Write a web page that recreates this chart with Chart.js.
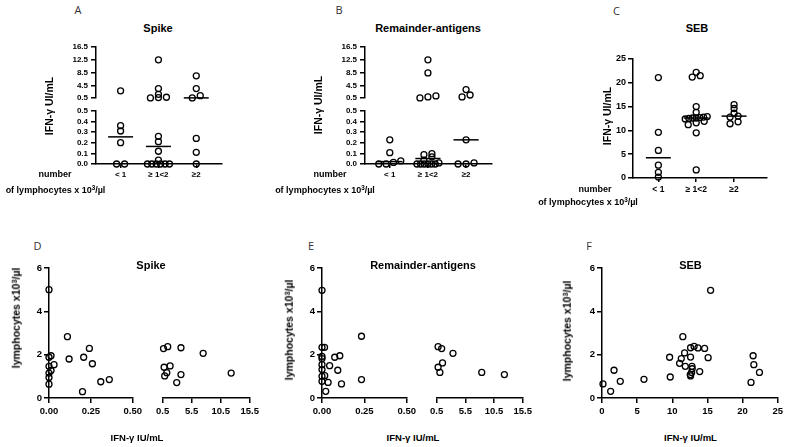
<!DOCTYPE html>
<html><head><meta charset="utf-8">
<script src="https://cdn.jsdelivr.net/npm/chart.js@4"></script>
<style>
body{margin:0;width:787px;height:447px;position:relative;overflow:hidden;background:#fff;font-family:'Liberation Sans',Arial,sans-serif;color:#000}
.t{position:absolute;transform:translate(-50%,-50%);white-space:nowrap;font-weight:bold;line-height:1}
.r{transform:translate(-50%,-50%) rotate(-90deg)}
.L{font-family:'Open Sans','Liberation Sans',sans-serif;font-weight:normal;color:#333;font-size:11px}
sup{font-size:0.7em;vertical-align:0.45em;line-height:0}
</style></head><body>
<script>
// ---------- data ----------
const catLabels = ['< 1', '\u2265 1<2', '\u22652'];
// Panel A: Spike IFN-γ by lymphocyte group
const spikeLt1 = [2.8, 0.36, 0.31, 0.2, 0, 0];
const spike1to2 = [12.5, 3.5, 1.7, 0.8, 0.7, 0.6, 0.26, 0.21, 0.12, 0.036, 0, 0, 0, 0, 0, 0];
const spikeGe2 = [7.5, 3.5, 1.3, 0.6, 0.24, 0.11, 0];
// Panel B: Remainder-antigens
const remLt1 = [0.227, 0.106, 0.03, 0.015, 0, 0];
const rem1to2 = [12.5, 8.4, 1.2, 0.9, 0.6, 0.097, 0.088, 0.067, 0.036, 0.01, 0, 0, 0, 0, 0, 0];
const remGe2 = [3.2, 1.5, 0.9, 0.227, 0.01, 0, 0];
// Panel C: SEB
const sebLt1 = [21.1, 9.6, 5.8, 2.7, 1.2, 0.2];
const seb1to2 = [22.2, 21.5, 21.2, 15.0, 13.8, 12.9, 12.8, 12.7, 12.6, 12.6, 12.5, 12.4, 11.9, 11.6, 11.2, 9.5, 1.7];
const sebGe2 = [15.4, 14.6, 13.6, 13.0, 12.8, 11.8, 11.4];
// Panel D: Spike IFN-γ vs lymphocytes
const dSpikeIFN = [0, 0, 0.012, 0, 0.012, 0.03, 0, 0, 0, 0.11, 0.12, 0.207, 0.241, 0.259, 0.2, 0.309, 0.36, 0.66, 1.38, 3.66, 7.48, 12.3, 0.76, 1.22, 0.86, 1.79, 2.93, 3.66];
const dSpikeLym = [5.0, 1.88, 1.95, 1.46, 1.27, 1.54, 1.15, 0.95, 0.64, 2.83, 1.8, 1.88, 2.29, 1.58, 0.29, 0.75, 0.85, 2.28, 2.37, 2.32, 2.06, 1.15, 1.42, 1.17, 1.02, 1.48, 0.71, 1.08];
// Panel E: Remainder-antigens IFN-γ vs lymphocytes
const eRemIFN = [0, 0, 0.015, 0, 0, 0, 0, 0, 0, 0.016, 0.036, 0.022, 0.045, 0.075, 0.105, 0.093, 0.115, 0.233, 0.233, 0.76, 1.38, 3.35, 0.76, 1.53, 1.07, 8.36, 12.3];
const eRemLym = [4.97, 2.34, 2.34, 1.92, 1.82, 1.54, 1.31, 1.0, 0.77, 1.03, 0.72, 0.31, 1.49, 1.88, 1.95, 1.28, 0.65, 2.85, 0.85, 2.37, 2.28, 2.06, 1.42, 1.62, 1.18, 1.18, 1.08];
// Panel F: SEB IFN-γ vs lymphocytes
const fSebIFN = [0.14, 1.23, 1.71, 2.6, 5.97, 9.62, 9.71, 11.04, 11.28, 11.5, 11.75, 11.85, 12.6, 12.6, 13.1, 13.65, 14.6, 15.1, 15.45, 13.9, 12.8, 12.83, 12.75, 12.56, 12.6, 21.5, 21.6, 22.4, 21.2];
const fSebLym = [0.65, 0.31, 1.28, 0.77, 0.86, 1.88, 0.97, 1.6, 1.82, 2.83, 2.08, 1.46, 2.32, 1.89, 2.38, 2.31, 2.29, 1.86, 4.97, 1.22, 1.46, 1.35, 1.18, 1.08, 1.02, 1.95, 1.54, 1.18, 0.72];
// tick labels
const ticksBrokenUpper = [0.5, 4.5, 8.5, 12.5, 16.5];
const ticksBrokenLower = [0, 0.1, 0.2, 0.3, 0.4, 0.5];
const ticksSebY = [0, 5, 10, 15, 20, 25];
const ticksLymY = [0, 2, 4, 6];
const ticksIfnLeft = [0, 0.25, 0.5];
const ticksIfnRight = [0.5, 5.5, 10.5, 15.5];
const ticksSebX = [0, 5, 10, 15, 20, 25];
const catTicks = [1, 2, 3];

// ---------- helpers ----------
const FONT = 'Liberation Sans';
function txt(s, x, y, size, cls) {
  const d = document.createElement('div');
  d.className = 't ' + (cls || '');
  d.style.left = x + 'px'; d.style.top = y + 'px';
  if (size) d.style.fontSize = size + 'px';
  d.innerHTML = s;
  document.body.appendChild(d);
}
function median(a) {
  const s = [...a].sort((p, q) => p - q), n = s.length;
  return n % 2 ? s[(n - 1) / 2] : (s[n / 2 - 1] + s[n / 2]) / 2;
}
function swarm(vals, toPx, pxPerX) {
  const idx = vals.map((v, i) => i).sort((a, b) => vals[a] - vals[b]);
  const off = new Array(vals.length).fill(0);
  let i = 0;
  while (i < idx.length) {
    const y0 = toPx(vals[idx[i]]);
    let j = i + 1;
    while (j < idx.length && Math.abs(toPx(vals[idx[j]]) - y0) < 3.5) j++;
    const n = j - i;
    const sp = n > 1 ? Math.min(8, 22 / (n - 1)) : 0;
    for (let k = 0; k < n; k++) off[idx[i + k]] = ((k - (n - 1) / 2) * sp) / pxPerX;
    i = j;
  }
  return off;
}
function axis(def, dir, size) {
  return {
    type: 'linear', display: def.show !== false, min: def.min, max: def.max,
    afterBuildTicks: s => { s.ticks = def.ticks.map(v => ({ value: v })); },
    afterFit: s => { if (dir === 'y') s.width = size; else s.height = size; },
    ticks: { callback: def.fmt, font: { family: FONT, weight: 'bold', size: def.fs || 8 }, color: '#000',
             padding: def.pad == null ? 3 : def.pad, autoSkip: false, maxRotation: 0, minRotation: 0 },
    grid: { display: true, drawOnChartArea: false, drawTicks: true, tickLength: def.tl || 5, color: '#000', lineWidth: 1.5 },
    border: { display: true, color: '#000', width: 1.5 }
  };
}
function seg(o) {
  const padT = o.padT == null ? 8 : o.padT, padR = o.padR == null ? 8 : o.padR, padB = o.padB || 0;
  const yW = o.yW, xH = o.xH;
  const c = document.createElement('canvas');
  const W = yW + o.w + padR, H = padT + o.h + xH + padB;
  c.width = W; c.height = H;
  c.style.cssText = `position:absolute;left:${o.l - yW}px;top:${o.t - padT}px;width:${W}px;height:${H}px`;
  document.body.appendChild(c);
  new Chart(c, {
    type: 'scatter', data: { datasets: o.datasets },
    options: {
      responsive: false, animation: false, devicePixelRatio: 1,
      layout: { autoPadding: false, padding: { top: padT, right: padR, left: 0, bottom: padB } },
      plugins: { legend: { display: false }, tooltip: { enabled: false } },
      events: [],
      scales: { x: axis(o.x, 'x', xH), y: axis(o.y, 'y', yW) }
    }
  });
}
const ptStyle = { pointRadius: 3, pointHoverRadius: 3, borderColor: '#000', backgroundColor: 'rgba(0,0,0,0)', borderWidth: 1.3, pointBorderWidth: 1.3, clip: false, showLine: false };
function pts(arr) { return Object.assign({ data: arr }, ptStyle); }
function medLine(c, m) {
  return { data: [{ x: c - 0.33, y: m }, { x: c + 0.33, y: m }], showLine: true, pointRadius: 0, borderColor: '#000', borderWidth: 1.5, clip: false };
}
const fmt1 = v => Number(v).toFixed(1);
const fmt2 = v => Number(v).toFixed(2);
const fmt0 = v => String(v);
const fmtCat = v => catLabels[Math.round(v) - 1];

// ---------- broken-y category panels (A, B) ----------
function brokenPanel(groups, L, W) {
  const upT = 47, upH = 53, loT = 109, loH = 55, xmin = 0.35, xmax = 3.68;
  const lp = loH / 0.5, up = upH / 16, pxPerX = W / (xmax - xmin);
  const toPx = v => v <= 0.5 ? v * lp : loH + 8 + (v - 0.5) * up;
  const lower = [], upper = [], loMed = [], upMed = [];
  groups.forEach((g, i) => {
    const c = i + 1, off = swarm(g, toPx, pxPerX);
    g.forEach((v, k) => (v <= 0.5 ? lower : upper).push({ x: c + off[k], y: v }));
    const m = median(g);
    (m <= 0.5 ? loMed : upMed).push(medLine(c, m));
  });
  seg({ l: L, t: upT, w: W, h: upH, yW: 32, xH: 0, padB: 6,
        x: { show: false, min: xmin, max: xmax, ticks: catTicks, fmt: fmtCat },
        y: { min: 0.5, max: 16.5, ticks: ticksBrokenUpper, fmt: fmt1, fs: 8, pad: 3 },
        datasets: [pts(upper), ...upMed] });
  seg({ l: L, t: loT, w: W, h: loH, yW: 32, xH: 18, padT: 6,
        x: { min: xmin, max: xmax, ticks: catTicks, fmt: fmtCat, fs: 8, tl: 4, pad: 2 },
        y: { min: 0, max: 0.5, ticks: ticksBrokenLower, fmt: fmt1, fs: 8, pad: 3 },
        datasets: [pts(lower), ...loMed] });
}
brokenPanel([spikeLt1, spike1to2, spikeGe2], 96, 126);
brokenPanel([remLt1, rem1to2, remGe2], 365, 127);

// ---------- C ----------
(function () {
  const L = 633, T = 59, W = 134, H = 119, xmin = 0.33, xmax = 3.87;
  const pxPerX = W / (xmax - xmin), toPx = v => v * H / 25;
  const all = [], meds = [];
  [sebLt1, seb1to2, sebGe2].forEach((g, i) => {
    const off = swarm(g, toPx, pxPerX);
    g.forEach((v, k) => all.push({ x: i + 1 + off[k], y: v }));
    meds.push(medLine(i + 1, median(g)));
  });
  seg({ l: L, t: T, w: W, h: H, yW: 30, xH: 20, padR: 12,
        x: { min: xmin, max: xmax, ticks: catTicks, fmt: fmtCat, fs: 8.5, tl: 4, pad: 2.5 },
        y: { min: 0, max: 25, ticks: ticksSebY, fmt: fmt0, fs: 9, pad: 2 },
        datasets: [pts(all), ...meds] });
})();

// ---------- broken-x scatter panels (D, E) ----------
function brokenX(ifn, lym, L, WL, R, WR) {
  const T = 268, H = 130;
  const left = [], right = [];
  ifn.forEach((v, i) => (v <= 0.5 ? left : right).push({ x: v, y: lym[i] }));
  seg({ l: L, t: T, w: WL, h: H, yW: 30, xH: 24, padR: 12,
        x: { min: 0, max: 0.5, ticks: ticksIfnLeft, fmt: fmt2, fs: 9.5, tl: 5, pad: 3 },
        y: { min: 0, max: 6, ticks: ticksLymY, fmt: fmt0, fs: 9.5, pad: 2 },
        datasets: [pts(left)] });
  seg({ l: R, t: T, w: WR, h: H, yW: 0, xH: 24, padR: 12,
        x: { min: 0.5, max: 15.5, ticks: ticksIfnRight, fmt: fmt1, fs: 9.5, tl: 5, pad: 3 },
        y: { show: false, min: 0, max: 6, ticks: ticksLymY, fmt: fmt0 },
        datasets: [pts(right)] });
}
brokenX(dSpikeIFN, dSpikeLym, 49, 84, 153, 97);
brokenX(eRemIFN, eRemLym, 322, 85, 427, 96);

// ---------- F ----------
seg({ l: 602, t: 268, w: 176, h: 130, yW: 30, xH: 24, padR: 8,
      x: { min: 0, max: 25, ticks: ticksSebX, fmt: fmt0, fs: 9.5, tl: 5, pad: 3 },
      y: { min: 0, max: 6, ticks: ticksLymY, fmt: fmt0, fs: 9.5, pad: 2 },
      datasets: [pts(fSebIFN.map((v, i) => ({ x: v, y: fSebLym[i] })))] });

// ---------- texts ----------
const lymTxt = 'of lymphocytes x 10<sup>3</sup>/\u00b5l';
txt('A', 78, 9, 0, 'L'); txt('Spike', 158, 28, 11);
txt('IFN-\u03b3 UI/mL', 48.5, 106, 10.5, 'r');
txt('number', 55, 174, 9); txt(lymTxt, 55.5, 190, 9);

txt('B', 339, 9, 0, 'L'); txt('Remainder-antigens', 428, 28, 11);
txt('IFN-\u03b3 UI/mL', 318, 105, 10.5, 'r');
txt('number', 330, 174, 9); txt(lymTxt, 325, 190, 9);

txt('C', 616.5, 10, 0, 'L'); txt('SEB', 697, 28, 11);
txt('IFN-\u03b3 UI/mL', 607, 116, 10.5, 'r');
txt('number', 595, 189, 9); txt(lymTxt, 588, 202, 9);

const lymY = 'lymphocytes x10<sup>3</sup>/\u00b5l';
txt('D', 37.5, 245, 0, 'L'); txt('Spike', 151, 265, 11);
txt('IFN-\u03b3 IU/mL', 137, 438, 9.5); txt(lymY, 16, 318, 10.5, 'r');

txt('E', 311, 245, 0, 'L'); txt('Remainder-antigens', 423, 265, 11);
txt('IFN-\u03b3 IU/mL', 413, 438, 9.5); txt(lymY, 289, 330, 10.5, 'r');

txt('F', 589, 245, 0, 'L'); txt('SEB', 690.5, 265, 11);
txt('IFN-\u03b3 IU/mL', 690.5, 438, 9.5); txt(lymY, 567, 331, 10.5, 'r');
</script>
</body></html>
